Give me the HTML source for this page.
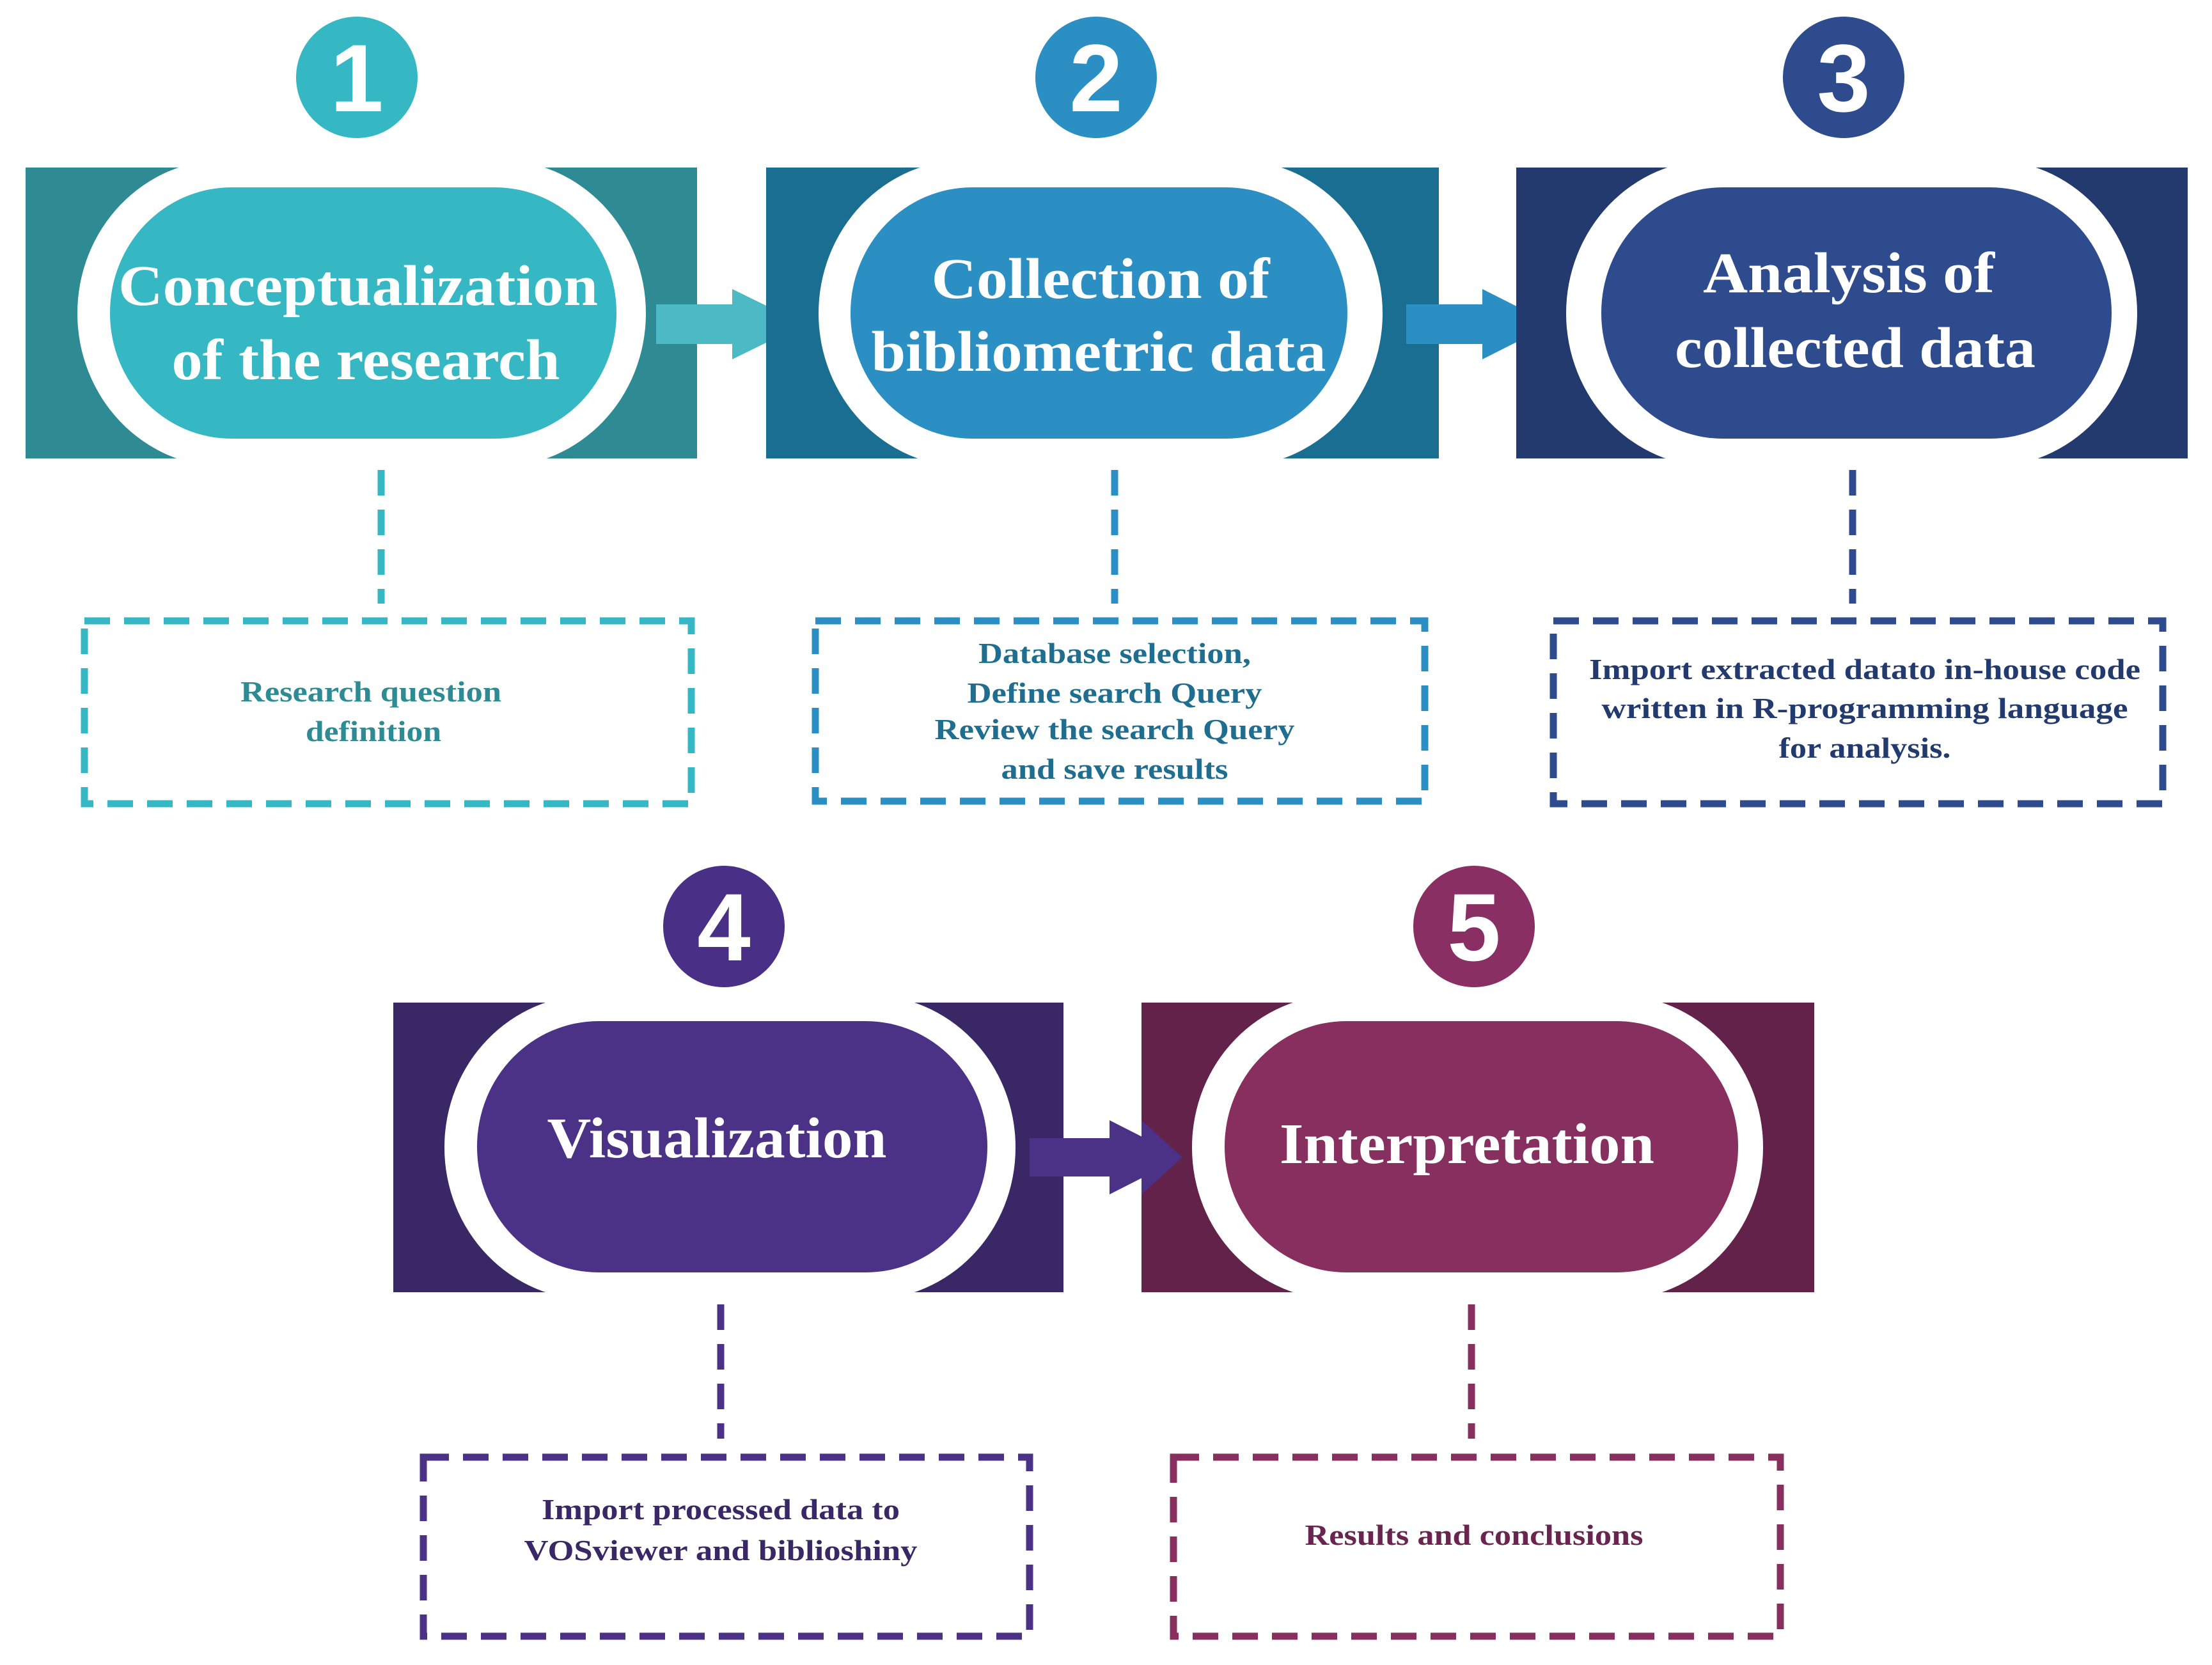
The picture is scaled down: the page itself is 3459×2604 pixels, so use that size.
<!DOCTYPE html>
<html><head><meta charset="utf-8"><style>
html,body{margin:0;padding:0;background:#fff;}
svg{display:block;}
.t{font-family:"Liberation Serif",serif;font-weight:bold;fill:#fff;font-size:90px;text-anchor:middle;}
.b{font-family:"Liberation Serif",serif;font-weight:bold;font-size:46px;text-anchor:middle;}
.n{font-family:"Liberation Sans",sans-serif;font-weight:bold;fill:#fff;font-size:150px;text-anchor:middle;}
.d{fill:none;stroke-width:11;stroke-dasharray:40 22;}
</style></head><body>
<svg width="3459" height="2604" viewBox="0 0 3459 2604" xmlns="http://www.w3.org/2000/svg">
<!-- Stage 1 -->
<circle cx="558" cy="121" r="95" fill="#35b8c4"/>
<text class="n" x="558" y="174">1</text>
<rect x="40" y="262" width="1050" height="455" fill="#2e8b93"/>
<rect x="121" y="250" width="889" height="480" rx="230" ry="240" fill="#fff"/>
<rect x="172" y="293" width="792" height="393" rx="190" ry="196" fill="#35b8c4"/>
<text class="t" x="560" y="477" textLength="750" lengthAdjust="spacingAndGlyphs">Conceptualization</text>
<text class="t" x="572" y="593" textLength="607" lengthAdjust="spacingAndGlyphs">of the research</text>
<polygon points="1026,476 1145,476 1145,452 1257,507 1145,562 1145,538 1026,538" fill="#4bbac4"/>
<line class="d" x1="596" y1="735" x2="596" y2="944" stroke="#35b8c4"/>
<rect class="d" x="132" y="971" width="949" height="286" stroke="#35b8c4"/>
<text class="b" x="580" y="1097" fill="#2e8b93" textLength="408" lengthAdjust="spacingAndGlyphs">Research question</text>
<text class="b" x="584" y="1159" fill="#2e8b93" textLength="212" lengthAdjust="spacingAndGlyphs">definition</text>

<!-- Stage 2 -->
<circle cx="1714" cy="121" r="95" fill="#2b8fc4"/>
<text class="n" x="1714" y="174">2</text>
<rect x="1198" y="262" width="1052" height="455" fill="#1a6e92"/>
<rect x="1280" y="250" width="882" height="480" rx="230" ry="240" fill="#fff"/>
<rect x="1330" y="293" width="777" height="393" rx="190" ry="196" fill="#2b8fc4"/>
<text class="t" x="1721" y="466" textLength="529" lengthAdjust="spacingAndGlyphs">Collection of</text>
<text class="t" x="1718" y="580" textLength="711" lengthAdjust="spacingAndGlyphs">bibliometric data</text>
<polygon points="2199,476 2318,476 2318,452 2427,507 2318,562 2318,538 2199,538" fill="#2b8fc4"/>
<line class="d" x1="1743" y1="735" x2="1743" y2="944" stroke="#2b8fc4"/>
<rect class="d" x="1275" y="971" width="953" height="282" stroke="#2b8fc4"/>
<text class="b" x="1743" y="1037" fill="#1f6e8f" textLength="426" lengthAdjust="spacingAndGlyphs">Database selection,</text>
<text class="b" x="1743" y="1099" fill="#1f6e8f" textLength="461" lengthAdjust="spacingAndGlyphs">Define search Query</text>
<text class="b" x="1743" y="1156" fill="#1f6e8f" textLength="563" lengthAdjust="spacingAndGlyphs">Review the search Query</text>
<text class="b" x="1743" y="1218" fill="#1f6e8f" textLength="355" lengthAdjust="spacingAndGlyphs">and save results</text>

<!-- Stage 3 -->
<circle cx="2883" cy="121" r="95" fill="#2e4b8e"/>
<text class="n" x="2883" y="174">3</text>
<rect x="2371" y="262" width="1050" height="455" fill="#223a6e"/>
<rect x="2449" y="250" width="893" height="480" rx="230" ry="240" fill="#fff"/>
<rect x="2504" y="293" width="798" height="393" rx="190" ry="196" fill="#2e4b8e"/>
<text class="t" x="2891" y="457" textLength="456" lengthAdjust="spacingAndGlyphs">Analysis of</text>
<text class="t" x="2901" y="574" textLength="564" lengthAdjust="spacingAndGlyphs">collected data</text>
<line class="d" x1="2897" y1="735" x2="2897" y2="944" stroke="#2e4b8e"/>
<rect class="d" x="2429" y="971" width="953" height="286" stroke="#2e4b8e"/>
<text class="b" x="2916" y="1062" fill="#223a6e" textLength="862" lengthAdjust="spacingAndGlyphs">Import extracted datato in-house code</text>
<text class="b" x="2916" y="1123" fill="#223a6e" textLength="823" lengthAdjust="spacingAndGlyphs">written in R-programming language</text>
<text class="b" x="2916" y="1185" fill="#223a6e" textLength="269" lengthAdjust="spacingAndGlyphs">for analysis.</text>

<!-- Stage 4 -->
<circle cx="1132" cy="1449" r="95" fill="#4a2f87"/>
<text class="n" x="1132" y="1502">4</text>
<rect x="615" y="1568" width="1048" height="453" fill="#3a2766"/>
<rect x="695" y="1556" width="893" height="477" rx="230" ry="238" fill="#fff"/>
<rect x="746" y="1597" width="798" height="393" rx="190" ry="196" fill="#4b3287"/>
<text class="t" x="1121" y="1810" textLength="531" lengthAdjust="spacingAndGlyphs">Visualization</text>
<polygon points="1610,1780 1735,1780 1735,1752 1849,1810 1735,1868 1735,1840 1610,1840" fill="#4b3287"/>
<line class="d" x1="1127" y1="2040" x2="1127" y2="2250" stroke="#4b3287"/>
<rect class="d" x="662" y="2279" width="948" height="280" stroke="#4b3287"/>
<text class="b" x="1127" y="2376" fill="#3a2766" textLength="560" lengthAdjust="spacingAndGlyphs">Import processed data to</text>
<text class="b" x="1127" y="2440" fill="#3a2766" textLength="615" lengthAdjust="spacingAndGlyphs">VOSviewer and biblioshiny</text>

<!-- Stage 5 -->
<circle cx="2305" cy="1449" r="95" fill="#8a2f63"/>
<text class="n" x="2305" y="1502">5</text>
<rect x="1785" y="1568" width="1052" height="453" fill="#63224a"/>
<rect x="1864" y="1556" width="893" height="477" rx="230" ry="238" fill="#fff"/>
<rect x="1915" y="1597" width="803" height="393" rx="190" ry="196" fill="#87305f"/>
<polygon points="1785,1752 1849,1810 1785,1868" fill="#4b3287"/>
<text class="t" x="2294" y="1819" textLength="586" lengthAdjust="spacingAndGlyphs">Interpretation</text>
<line class="d" x1="2301" y1="2040" x2="2301" y2="2250" stroke="#87305f"/>
<rect class="d" x="1835" y="2279" width="949" height="280" stroke="#87305f"/>
<text class="b" x="2305" y="2416" fill="#6a2450" textLength="529" lengthAdjust="spacingAndGlyphs">Results and conclusions</text>
</svg>
</body></html>
